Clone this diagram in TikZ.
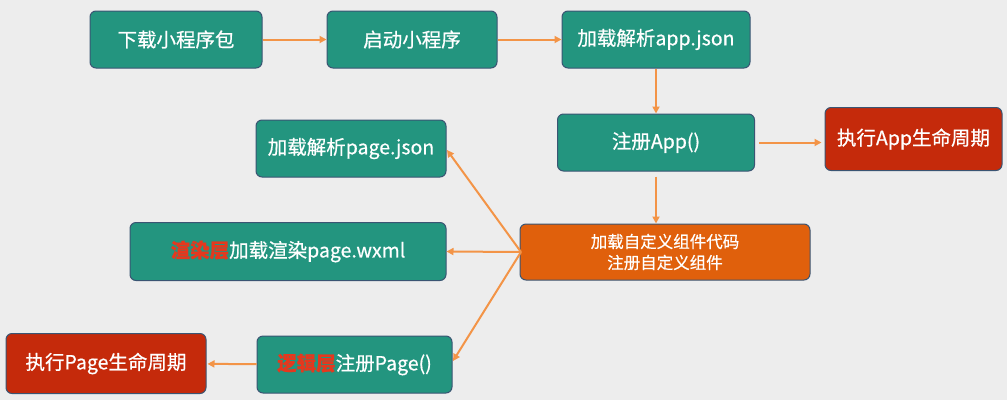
\documentclass[tikz,border=0pt]{standalone}
\usepackage{fontspec}
\setmainfont{Noto Sans CJK SC}
\newfontfamily\boxfont{Noto Sans CJK SC}[FakeBold=0.6]
\usetikzlibrary{arrows.meta}
\definecolor{bgc}{HTML}{EDEDED}
\definecolor{tealc}{HTML}{23957F}
\definecolor{redc}{HTML}{C52A0B}
\definecolor{orangec}{HTML}{E0600C}
\definecolor{edgec}{HTML}{3A5573}
\definecolor{arrowc}{HTML}{F39447}
\definecolor{hotc}{HTML}{E5381E}
\tikzset{
  box/.style={draw=edgec, line width=1pt, rounded corners=6pt, text=white,
    font=\boxfont\fontsize{19.5}{22}\selectfont, inner sep=2pt, align=center},
  tealbox/.style={box, fill=tealc},
  redbox/.style={box, fill=redc},
  orbox/.style={box, fill=orangec, font=\boxfont\fontsize{16.5}{21}\selectfont},
  conn/.style={draw=arrowc, line width=2pt, -{Triangle[length=7pt,width=7pt]}},
}
\newcommand{\hot}[1]{\textcolor{hotc}{\textbf{#1}}}
\begin{document}
\begin{tikzpicture}[x=1pt,y=-1pt]
\fill[bgc] (0,0) rectangle (1007,400);
\useasboundingbox (0,0) rectangle (1007,400);
\node[tealbox, minimum width=172pt, minimum height=57pt] (A) at (176,39.5) {下载小程序包};
\node[tealbox, minimum width=170pt, minimum height=57pt] (B) at (412,39.5) {启动小程序};
\node[tealbox, minimum width=188pt, minimum height=57pt] (C) at (656,39.5) {加载解析app.json};
\node[tealbox, minimum width=197pt, minimum height=57pt] (D) at (656,142.5) {注册App()};
\node[redbox, minimum width=177pt, minimum height=63pt] (E) at (913.5,139) {执行App生命周期};
\node[tealbox, minimum width=190pt, minimum height=57pt] (F) at (351,148.5) {加载解析page.json};
\node[orbox, minimum width=290pt, minimum height=56pt] (G) at (665,252) {加载自定义组件代码\\注册自定义组件};
\node[tealbox, minimum width=316pt, minimum height=58pt] (H) at (288,251.5) {\hot{渲染层}加载渲染page.wxml};
\node[tealbox, minimum width=195pt, minimum height=57pt] (I) at (354.5,364.5) {\hot{逻辑层}注册Page()};
\node[redbox, minimum width=200pt, minimum height=60pt] (J) at (106,363.5) {执行Page生命周期};
\coordinate (Gw) at (521,252);
\coordinate (Ft) at (447,150);
\coordinate (It) at (453,361);
\draw[conn] (A) -- (B);
\draw[conn] (B) -- (C);
\draw[conn] (C) -- (D);
\draw[conn, shorten <=4pt, shorten >=3pt] (D.east) -- (D.east -| E.west);
\draw[conn, shorten <=5pt] (D.south) -- (D.south |- G.north);
\draw[conn] (Gw) -- (Ft);
\draw[conn] (Gw) -- (H.east);
\draw[conn] (Gw) -- (It);
\draw[conn, shorten >=1pt] (I) -- (J);
\end{tikzpicture}
\end{document}
